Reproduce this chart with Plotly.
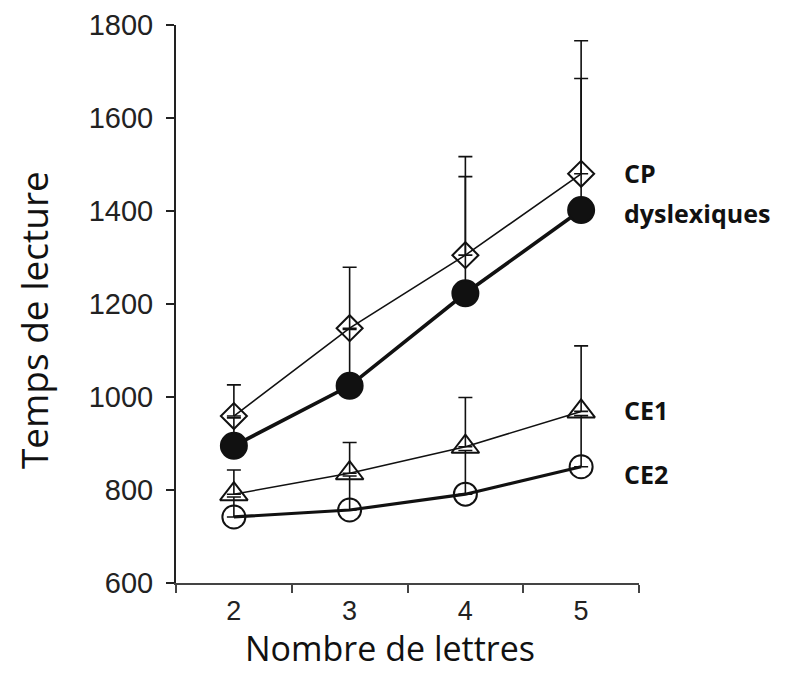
import plotly.graph_objects as go

x_labels = ["2", "3", "4", "5"]

cp_mean = [959, 1148, 1305, 1480]
cp_err_up = [1026, 1279, 1517, 1766]

dys_mean = [895, 1024, 1223, 1402]
dys_err_up = [955, 1145, 1474, 1685]

ce1_mean = [791, 836, 893, 969]
ce1_err_up = [843, 902, 999, 1110]

ce2_mean = [742, 757, 791, 850]
ce2_err_up = [785, 830, 885, 960]

series_names = ["CP", "dyslexiques", "CE1", "CE2"]


def err(mean, up):
    return [u - m for m, u in zip(mean, up)]


fig = go.Figure()

common_err = dict(type="data", symmetric=False, color="#111", thickness=1.6, width=7)

specs = [
    (ce2_mean, ce2_err_up, "circle-open", 23, 3.2, "CE2"),
    (ce1_mean, ce1_err_up, "triangle-up-open", 24, 1.6, "CE1"),
    (dys_mean, dys_err_up, "circle", 26, 3.6, "dyslexiques"),
    (cp_mean, cp_err_up, "diamond-open", 20, 1.6, "CP"),
]

for mean, up, sym, size, lw, name in specs:
    fig.add_trace(go.Scatter(
        x=x_labels, y=mean, name=name, mode="lines+markers",
        line=dict(color="#111", width=lw),
        marker=dict(symbol=sym, size=size, color="#111",
                    line=dict(color="#111", width=2)),
        error_y=dict(array=err(mean, up), arrayminus=[0] * len(mean), **common_err),
        showlegend=False,
    ))

label_y = [1482, 1395, 972, 834]
for name, yv in zip(series_names, label_y):
    fig.add_annotation(
        x=0.964, xref="paper", y=yv, yref="y", text=name, showarrow=False,
        xanchor="left", yanchor="middle",
        font=dict(family="Open Sans", size=25, color="#111", weight="bold"),
    )

# axis titles
fig.add_annotation(
    x=-0.309, xref="paper", y=0.471, yref="paper", text="Temps de lecture",
    textangle=-90, showarrow=False, xanchor="center", yanchor="middle",
    font=dict(family="Open Sans", size=37, color="#111"),
)
fig.add_annotation(
    x=0.462, xref="paper", y=-0.117, yref="paper", text="Nombre de lettres",
    showarrow=False, xanchor="center", yanchor="middle",
    font=dict(family="Open Sans", size=34, color="#111"),
)

fig.update_layout(
    width=778, height=665,
    margin=dict(l=168, r=147, t=17, b=90),
    paper_bgcolor="white", plot_bgcolor="white",
    font=dict(family="Liberation Sans", color="#222"),
    xaxis=dict(
        type="category", range=[-0.5, 3.5], tickson="boundaries",
        ticks="outside", ticklen=8, tickwidth=2, tickcolor="#444",
        showline=True, linecolor="#444", linewidth=2, showgrid=False,
        tickfont=dict(size=27, family="Liberation Sans", color="#222"),
        ticklabelstandoff=3, automargin=False,
    ),
    yaxis=dict(
        range=[600, 1800], tickvals=[600, 800, 1000, 1200, 1400, 1600, 1800],
        ticks="outside", ticklen=8, tickwidth=2, tickcolor="#222",
        showline=True, linecolor="#222", linewidth=2, showgrid=False, zeroline=False,
        tickfont=dict(size=29, family="Liberation Sans", color="#222"),
        ticklabelstandoff=7, automargin=False,
    ),
)

fig.write_html("out.html")
